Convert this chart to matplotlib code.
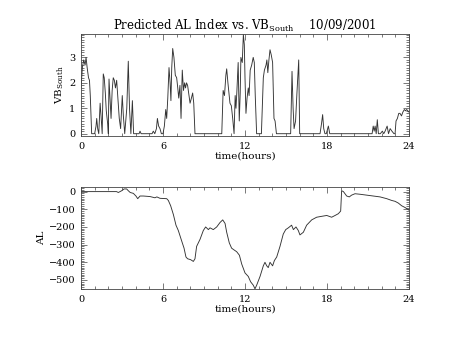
import numpy as np
import matplotlib
matplotlib.use('Agg')
import matplotlib.pyplot as plt
from matplotlib.ticker import MultipleLocator

plt.rcParams['font.family'] = ['DejaVu Serif']
plt.rcParams['mathtext.fontset'] = 'dejavuserif'

# VB_south : time (hours) and value, one line per burst
vb_t = [0.0, 0.1, 0.2, 0.3, 0.37, 0.45, 0.55, 0.62, 0.68, 0.78,
        1.0, 1.1, 1.15, 1.22, 1.3, 1.4, 1.48, 1.55,
        1.63, 1.7, 1.78, 1.85, 1.95, 2.0,
        2.05, 2.12, 2.2, 2.28, 2.36, 2.44, 2.52, 2.61, 2.7, 2.8, 2.9,
        3.02, 3.1, 3.2,
        3.35, 3.46, 3.55, 3.65,
        3.76, 3.85,
        4.25, 4.32, 4.4,
        5.2, 5.29, 5.4, 5.52, 5.59, 5.68, 5.78, 5.88,
        6.0, 6.1, 6.2, 6.27, 6.35, 6.44, 6.52, 6.58, 6.64, 6.71,
        6.8, 6.9, 7.0, 7.08, 7.15, 7.24, 7.32, 7.41, 7.5, 7.58,
        7.65, 7.72, 7.8, 7.9, 7.98, 8.08, 8.17, 8.25, 8.34,
        10.3, 10.4, 10.5, 10.6, 10.66, 10.75, 10.9, 11.0, 11.1, 11.2,
        11.28, 11.34, 11.4, 11.5, 11.58, 11.65, 11.7, 11.8, 11.88, 11.95,
        12.0, 12.07, 12.15, 12.24, 12.3, 12.38, 12.49, 12.6, 12.68, 12.75, 12.85,
        13.2, 13.28, 13.34, 13.42, 13.54, 13.6, 13.67, 13.75, 13.83, 13.92, 14.02, 14.12, 14.2, 14.3,
        15.34, 15.44, 15.52, 15.59, 15.7, 15.8, 15.93, 16.0,
        17.49, 17.6, 17.68, 17.76, 17.85, 17.95, 18.1, 18.2,
        21.3, 21.38, 21.45, 21.52, 21.6, 21.68, 21.76, 21.9, 22.05, 22.15,
        22.25, 22.4, 22.5, 22.62, 22.75, 22.9, 22.98, 23.05, 23.15, 23.25,
        23.34, 23.45, 23.55, 23.66, 23.75, 23.83, 23.92, 24.0]
vb = [1.8, 2.6, 2.9, 2.7, 3.0, 2.6, 2.2, 2.1, 1.5, 0.0,
      0.0, 0.3, 0.6, 0.2, 0.0, 1.2, 0.6, 0.0,
      2.35, 2.2, 1.6, 0.9, 0.4, 0.0,
      2.15, 1.4, 0.6, 1.7, 2.2, 2.1, 1.8, 2.1, 1.4, 0.6, 0.2,
      1.5, 0.7, 0.0,
      1.0, 2.85, 1.0, 0.0,
      1.3, 0.0,
      0.0, 0.1, 0.0,
      0.0, 0.1, 0.0, 0.2, 0.6, 0.3, 0.2, 0.0,
      0.0, 0.3, 0.95, 0.6, 1.4, 2.6, 2.0, 1.3, 2.6, 3.35,
      3.0, 2.3, 2.2, 1.8, 1.4, 1.9, 0.6, 2.5, 1.7, 2.0,
      1.8, 2.0, 1.9, 1.5, 1.2, 1.4, 1.6, 1.2, 0.0,
      0.0, 1.7, 1.5, 2.3, 2.55, 2.0, 1.2, 1.1, 0.6, 0.0,
      1.5, 1.0, 1.6, 2.8, 0.5, 1.6, 3.0, 2.8, 3.9, 3.5,
      2.2, 0.8, 1.4, 1.8, 1.5, 2.5, 2.7, 3.0, 2.8, 1.5, 0.0,
      0.0, 1.2, 2.2, 2.5, 2.7, 2.9, 2.4, 2.9, 3.3, 3.1, 2.8, 0.6, 0.5, 0.0,
      0.0, 2.45, 1.0, 0.2, 0.5, 1.6, 2.9, 0.0,
      0.0, 0.4, 0.75, 0.2, 0.0, 0.0, 0.3, 0.0,
      0.0, 0.3, 0.1, 0.3, 0.0, 0.55, 0.0, 0.0, 0.1, 0.0,
      0.1, 0.3, 0.0, 0.2, 0.1, 0.0, 0.0, 0.5, 0.6, 0.8,
      0.8, 0.7, 0.85, 0.95, 0.9, 0.95, 0.9, 0.85]

# AL index : time (hours) and value (nT)
al_t = [0.0, 2.6, 2.73, 2.98, 3.15, 3.34, 3.46, 3.6, 3.83, 4.02,
        4.15, 4.32, 4.56, 5.05, 5.41, 5.55, 5.78, 6.27, 6.39, 6.56,
        6.76, 6.95, 7.12, 7.37, 7.54, 7.68, 7.8, 8.02, 8.22, 8.34,
        8.46, 8.71, 8.95, 9.12, 9.32, 9.44, 9.68, 9.93, 10.17, 10.37,
        10.54, 10.66, 10.85, 11.02, 11.2, 11.39, 11.59, 11.76, 12.0, 12.24,
        12.41, 12.61, 12.73, 12.85, 13.1, 13.34, 13.46, 13.59, 13.7, 13.83,
        14.02, 14.15, 14.32, 14.56, 14.8, 14.98, 15.17, 15.41, 15.54, 15.73,
        15.9, 16.02, 16.27, 16.51, 16.88, 17.24, 17.6, 17.98, 18.34, 18.59,
        18.83, 19.0, 19.07, 19.2, 19.44, 19.63, 19.8, 20.05, 20.41, 20.9,
        21.39, 21.88, 22.37, 22.73, 22.98, 23.22, 23.46, 23.71, 24.0]
al = [0, 0, -5, 5, 15, 15, 5, -5, -10, -25,
      -40, -25, -25, -28, -35, -30, -38, -40, -50, -80,
      -130, -190, -220, -280, -320, -370, -380, -385, -395, -380,
      -310, -270, -220, -200, -215, -205, -215, -200, -175, -160,
      -180, -230, -290, -320, -330, -340, -360, -410, -460, -480,
      -510, -530, -550, -530, -480, -420, -400, -420, -430, -400,
      -420, -390, -370, -310, -240, -215, -205, -190, -215, -200,
      -220, -245, -230, -190, -160, -145, -140, -135, -145, -135,
      -125, -110, 5, 0, -25, -30, -20, -12, -15, -20,
      -25, -30, -40, -50, -55, -65, -80, -90, -105]

fig = plt.figure(figsize=(4.54, 3.41), dpi=100)
ax1 = fig.add_axes([0.1784, 0.6012, 0.7225, 0.2991])
ax2 = fig.add_axes([0.1784, 0.1525, 0.7225, 0.2991])

ax1.plot(vb_t, vb, color='#333333', lw=0.65)
ax1.set_xlim(0, 24)
ax1.set_ylim(-0.09, 3.92)
ax1.yaxis.set_major_locator(MultipleLocator(1))
ax1.yaxis.set_minor_locator(MultipleLocator(0.1))
ax1.set_ylabel(r'VB$_{\mathregular{South}}$', fontsize=7.5, labelpad=2)
ax1.set_title(r'Predicted AL Index vs. VB$_{\mathregular{South}}$    10/09/2001',
              fontsize=8.5, pad=3)

ax2.plot(al_t, al, color='#333333', lw=0.65)
ax2.set_xlim(0, 24)
ax2.set_ylim(-551, 26)
ax2.yaxis.set_major_locator(MultipleLocator(100))
ax2.yaxis.set_minor_locator(MultipleLocator(10))
ax2.set_ylabel('AL', fontsize=7.5, labelpad=2)

for ax in (ax1, ax2):
    ax.xaxis.set_major_locator(MultipleLocator(6))
    ax.xaxis.set_minor_locator(MultipleLocator(1))
    ax.set_xlabel('time(hours)', fontsize=7.5, labelpad=1)
    ax.tick_params(which='both', direction='in', top=True, right=True,
                   labelsize=7, width=0.5, color='#444444')
    ax.tick_params(which='major', length=4, pad=4)
    ax.tick_params(which='minor', length=2)
    for s in ax.spines.values():
        s.set_linewidth(0.6)
        s.set_color('#444444')

fig.savefig('out.png', dpi=100)
